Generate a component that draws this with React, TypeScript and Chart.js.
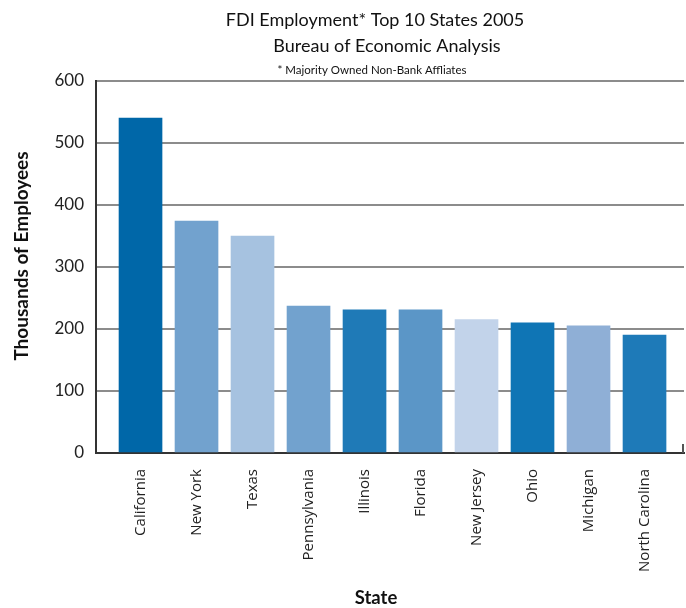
import React, { useEffect, useRef } from "react";
import { Chart, registerables } from "chart.js";

Chart.register(...registerables);

const states = [
  "California",
  "New York",
  "Texas",
  "Pennsylvania",
  "Illinois",
  "Florida",
  "New Jersey",
  "Ohio",
  "Michigan",
  "North Carolina",
];

const employees = [540, 374, 350, 237, 231, 231, 215, 210, 205, 190];

const barColors = [
  "#0067A8",
  "#72A2CE",
  "#A6C2E0",
  "#72A2CE",
  "#1F7AB7",
  "#5B96C7",
  "#C2D3EA",
  "#0F75B5",
  "#8FAFD6",
  "#1E7AB8",
];

const yTicks = [0, 100, 200, 300, 400, 500, 600];

const titleLines = [
  "FDI Employment* Top 10 States 2005",
  "Bureau of Economic Analysis",
];
const footnote = "* Majority Owned Non-Bank Affliates";
const yTitle = "Thousands of Employees";
const xTitle = "State";

const FONT = "Lato, 'Open Sans', sans-serif";
const TICKFONT = "'Open Sans', sans-serif";

const textPlugin = {
  id: "customText",
  afterDraw(chart: any) {
    const ctx = chart.ctx;
    const area = chart.chartArea;
    ctx.save();
    ctx.fillStyle = "#111";
    ctx.textBaseline = "middle";
    ctx.textAlign = "center";
    ctx.font = `18px ${FONT}`;
    ctx.fillText(titleLines[0], 375, 20);
    ctx.fillText(titleLines[1], 387, 46);
    ctx.font = `11.5px ${FONT}`;
    ctx.fillText(footnote, 372, 70);

    ctx.font = `bold 18.5px ${FONT}`;
    ctx.fillText(xTitle, 376, 598);

    ctx.font = `bold 19px ${FONT}`;
    ctx.save();
    ctx.translate(22, 256);
    ctx.rotate(-Math.PI / 2);
    ctx.fillText(yTitle, 0, 0);
    ctx.restore();

    // small closing tick at right end of the x axis
    ctx.strokeStyle = "#555";
    ctx.lineWidth = 2;
    ctx.beginPath();
    ctx.moveTo(area.right - 1, area.bottom);
    ctx.lineTo(area.right - 1, area.bottom - 9);
    ctx.stroke();
    ctx.restore();
  },
};

export default function App() {
  const canvasRef = useRef<HTMLCanvasElement>(null);

  useEffect(() => {
    if (!canvasRef.current) return;
    const chart = new Chart(canvasRef.current, {
      type: "bar",
      data: {
        datasets: [
          {
            data: employees.map((v, i) => ({ x: i, y: v })),
            backgroundColor: barColors,
            borderWidth: 0,
            barThickness: 43,
          },
        ],
      },
      options: {
        animation: false,
        responsive: false,
        maintainAspectRatio: false,
        layout: { padding: { left: 0, top: 81, right: 2, bottom: 0 } },
        plugins: {
          legend: { display: false },
          title: { display: false },
          tooltip: { enabled: false },
        },
        scales: {
          x: {
            type: "linear",
            offset: false,
            min: -0.795,
            max: 9.705,
            afterBuildTicks: (scale: any) => {
              scale.ticks = states.map((_, i) => ({ value: i }));
            },
            afterFit: (scale: any) => {
              scale.height = 155;
            },
            grid: { display: false, drawTicks: false, offset: false },
            border: { display: true, color: "#333", width: 2 },
            ticks: {
              autoSkip: false,
              minRotation: 90,
              maxRotation: 90,
              padding: 16,
              color: "#222",
              font: { family: TICKFONT, size: 15 },
              callback: (v: any) => states[v as number] ?? "",
            },
          },
          y: {
            min: 0,
            max: 600,
            afterBuildTicks: (scale: any) => {
              scale.ticks = yTicks.map((v) => ({ value: v }));
            },
            afterFit: (scale: any) => {
              scale.width = 96;
            },
            grid: { color: "#8c8c8c", lineWidth: 2, drawTicks: false },
            border: { display: true, color: "#333", width: 2 },
            ticks: {
              padding: 12,
              color: "#222",
              font: { family: FONT, size: 17 },
            },
          },
        },
      },
      plugins: [textPlugin],
    });
    return () => chart.destroy();
  }, []);

  return (
    <div style={{ position: "fixed", left: 0, top: 0, width: 686, height: 608, background: "#fff" }}>
      <canvas ref={canvasRef} width={686} height={608} style={{ width: 686, height: 608 }} />
    </div>
  );
}
